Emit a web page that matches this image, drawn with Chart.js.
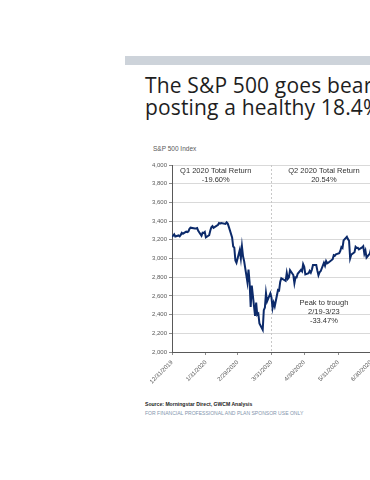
<!DOCTYPE html>
<html>
<head>
<meta charset="utf-8">
<script src="https://cdn.jsdelivr.net/npm/chart.js@4"></script>
<style>
  html, body { margin: 0; padding: 0; background: #fff; overflow: hidden; width: 370px; height: 480px; }
  .bar { position: absolute; left: 125px; top: 56px; width: 260px; height: 9px; background: #cdd3da; }
  .title { position: absolute; left: 145px; top: 74px; font-family: "Open Sans", sans-serif; font-size: 21px; line-height: 22px; letter-spacing: 0.15px; color: #1e1e1e; white-space: nowrap; }
  .sub { position: absolute; left: 153px; top: 145px; font-family: "Liberation Sans", Arial, sans-serif; font-size: 6.5px; color: #595959; }
  .src { position: absolute; left: 145px; top: 401px; font-family: "Liberation Sans", Arial, sans-serif; font-size: 5.1px; font-weight: bold; color: #222; white-space: nowrap; }
  .note { position: absolute; left: 145px; top: 410px; font-family: "Liberation Sans", Arial, sans-serif; font-size: 5.05px; color: #8496ad; white-space: nowrap; }
  #wrap { position: absolute; left: 130px; top: 150px; width: 250px; height: 250px; }
</style>
</head>
<body>
<div class="bar"></div>
<div class="title">The S&amp;P 500 goes bear<br>posting a healthy 18.4%</div>
<div class="sub">S&amp;P 500 Index</div>
<div id="wrap"><canvas id="spx"></canvas></div>
<div class="src">Source: Morningstar Direct, GWCM Analysis</div>
<div class="note">FOR FINANCIAL PROFESSIONAL AND PLAN SPONSOR USE ONLY</div>
<script>
// S&P 500 daily closes
const dates = [
  '12/31/2019',
  '1/2/2020','1/3/2020','1/6/2020','1/7/2020','1/8/2020','1/9/2020','1/10/2020','1/13/2020','1/14/2020','1/15/2020',
  '1/16/2020','1/17/2020','1/21/2020','1/22/2020','1/23/2020','1/24/2020','1/27/2020','1/28/2020','1/29/2020','1/30/2020','1/31/2020',
  '2/3/2020','2/4/2020','2/5/2020','2/6/2020','2/7/2020','2/10/2020','2/11/2020','2/12/2020','2/13/2020','2/14/2020',
  '2/18/2020','2/19/2020','2/20/2020','2/21/2020','2/24/2020','2/25/2020','2/26/2020','2/27/2020','2/28/2020',
  '3/2/2020','3/3/2020','3/4/2020','3/5/2020','3/6/2020','3/9/2020','3/10/2020','3/11/2020','3/12/2020','3/13/2020',
  '3/16/2020','3/17/2020','3/18/2020','3/19/2020','3/20/2020','3/23/2020','3/24/2020','3/25/2020','3/26/2020','3/27/2020','3/30/2020','3/31/2020',
  '4/1/2020','4/2/2020','4/3/2020','4/6/2020','4/7/2020','4/8/2020','4/9/2020','4/13/2020','4/14/2020','4/15/2020',
  '4/16/2020','4/17/2020','4/20/2020','4/21/2020','4/22/2020','4/23/2020','4/24/2020','4/27/2020','4/28/2020','4/29/2020','4/30/2020',
  '5/1/2020','5/4/2020','5/5/2020','5/6/2020','5/7/2020','5/8/2020','5/11/2020','5/12/2020','5/13/2020','5/14/2020',
  '5/15/2020','5/18/2020','5/19/2020','5/20/2020','5/21/2020','5/22/2020','5/26/2020','5/27/2020','5/28/2020','5/29/2020',
  '6/1/2020','6/2/2020','6/3/2020','6/4/2020','6/5/2020','6/8/2020','6/9/2020','6/10/2020','6/11/2020','6/12/2020',
  '6/15/2020','6/16/2020','6/17/2020','6/18/2020','6/19/2020','6/22/2020','6/23/2020','6/24/2020','6/25/2020','6/26/2020','6/29/2020','6/30/2020'
];
const closes = [
  3230.78,
  3257.85,3234.85,3246.28,3237.18,3253.05,3274.70,3265.35,3288.13,3283.15,3289.29,
  3316.81,3329.62,3320.79,3321.75,3325.54,3295.47,3243.63,3276.24,3273.40,3283.66,3225.52,
  3248.92,3297.59,3334.69,3345.78,3327.71,3352.09,3357.75,3379.45,3373.94,3380.16,
  3370.29,3386.15,3373.23,3337.75,3225.89,3128.21,3116.39,2978.76,2954.22,
  3090.23,3003.37,3130.12,3023.94,2972.37,2746.56,2882.23,2741.38,2480.64,2711.02,
  2386.13,2529.19,2398.10,2409.39,2304.92,2237.40,2447.33,2475.56,2630.07,2541.47,2626.65,2584.59,
  2470.50,2526.90,2488.65,2663.68,2659.41,2749.98,2789.82,2761.63,2846.06,2783.36,
  2799.55,2874.56,2823.16,2736.56,2799.31,2797.80,2836.74,2878.48,2863.39,2939.51,2912.43,
  2830.71,2842.74,2868.44,2848.42,2881.19,2929.80,2930.32,2870.12,2820.00,2852.50,
  2863.70,2953.91,2922.94,2971.61,2948.51,2955.45,2991.77,3036.13,3029.73,3044.31,
  3055.73,3080.82,3122.87,3112.35,3193.93,3232.39,3207.18,3190.14,3002.10,3041.31,
  3066.59,3124.74,3113.49,3115.34,3097.74,3117.86,3131.29,3050.33,3083.76,3009.05,3053.24,3100.29
];
const tickDates = ['12/31/2019','1/31/2020','2/29/2020','3/31/2020','4/30/2020','5/31/2020','6/30/2020'];
const yTicks = [2000, 2200, 2400, 2600, 2800, 3000, 3200, 3400, 3600, 3800, 4000];
const quarterSplit = '3/31/2020';

// text boxes placed in data coordinates
const notes = [
  { date: '2/9/2020',  value: 3935, lines: ['Q1 2020 Total Return', '-19.60%'] },
  { date: '5/18/2020', value: 3935, lines: ['Q2 2020 Total Return', '20.54%'] },
  { date: '5/18/2020', value: 2525, lines: ['Peak to trough', '2/19-3/23', '-33.47%'] }
];

function dayNum(s) {
  const p = s.split('/').map(Number);
  return (Date.UTC(p[2], p[0] - 1, p[1]) - Date.UTC(2019, 11, 31)) / 86400000;
}

const tickDays = tickDates.map(dayNum);
const points = dates.map((d, i) => ({ x: dayNum(d), y: closes[i] }));

const extras = {
  id: 'extras',
  beforeDatasetsDraw(chart) {
    const { ctx, chartArea, scales } = chart;
    const x = Math.round(scales.x.getPixelForValue(dayNum(quarterSplit))) + 0.5;
    ctx.save();
    ctx.strokeStyle = '#c8c8c8';
    ctx.lineWidth = 1;
    ctx.setLineDash([2, 2]);
    ctx.beginPath();
    ctx.moveTo(x, chartArea.top);
    ctx.lineTo(x, chartArea.bottom);
    ctx.stroke();
    ctx.restore();
  },
  afterDatasetsDraw(chart) {
    const { ctx, scales } = chart;
    ctx.save();
    ctx.fillStyle = '#333';
    ctx.font = '7.5px "Liberation Sans", Arial, sans-serif';
    ctx.textAlign = 'center';
    ctx.textBaseline = 'middle';
    notes.forEach(n => {
      const x = scales.x.getPixelForValue(dayNum(n.date));
      const y = scales.y.getPixelForValue(n.value);
      n.lines.forEach((t, i) => ctx.fillText(t, x, y + i * 9));
    });
    ctx.restore();
  }
};

Chart.defaults.font.family = '"Liberation Sans", Arial, sans-serif';
Chart.defaults.color = '#595959';

new Chart(document.getElementById('spx'), {
  type: 'line',
  data: {
    datasets: [{
      data: points,
      borderColor: '#0c2a6a',
      borderWidth: 2,
      pointRadius: 0,
      fill: false,
      tension: 0
    }]
  },
  options: {
    responsive: true,
    maintainAspectRatio: false,
    animation: false,
    layout: { padding: { top: 15, right: 7, bottom: 8, left: 0 } },
    plugins: { legend: { display: false }, tooltip: { enabled: false } },
    scales: {
      x: {
        type: 'linear',
        min: 0,
        max: tickDays[tickDays.length - 1],
        afterBuildTicks: s => { s.ticks = tickDays.map(v => ({ value: v })); },
        afterFit: s => { s.height = 40; },
        ticks: {
          font: { size: 6 },
          minRotation: 45,
          maxRotation: 45,
          padding: 4,
          callback: v => tickDates[tickDays.indexOf(v)] || ''
        },
        grid: { drawOnChartArea: false, tickLength: 3, tickColor: '#8c8c8c' },
        border: { color: '#595959', width: 1 }
      },
      y: {
        min: 2000,
        max: 4000,
        afterBuildTicks: s => { s.ticks = yTicks.map(v => ({ value: v })); },
        afterFit: s => { s.width = 42; },
        ticks: {
          font: { size: 6 },
          padding: 2,
          callback: v => v.toLocaleString('en-US')
        },
        grid: { color: '#d9d9d9', tickLength: 3, tickColor: '#8c8c8c' },
        border: { color: '#595959', width: 1 }
      }
    }
  },
  plugins: [extras]
});
</script>
</body>
</html>
